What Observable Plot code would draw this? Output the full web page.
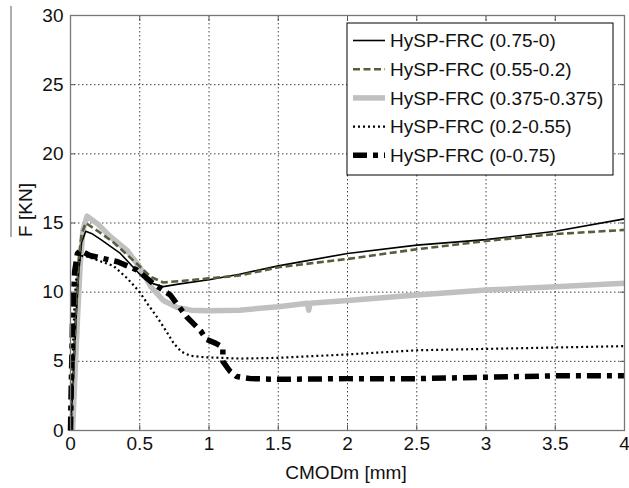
<!DOCTYPE html>
<html>
<head>
<meta charset="utf-8">
<script src="https://cdn.jsdelivr.net/npm/d3@7"></script>
<script src="https://cdn.jsdelivr.net/npm/@observablehq/plot@0.6"></script>
<style>
  html, body { margin: 0; padding: 0; background: #fff; }
  #chart { position: relative; width: 629px; height: 488px; }
  svg { font-family: "Liberation Sans", Arial, sans-serif; }
</style>
</head>
<body>
<div id="chart"></div>
<script>
// ---- data ----
const xTicks = [0, 0.5, 1, 1.5, 2, 2.5, 3, 3.5, 4];
const yTicks = [0, 5, 10, 15, 20, 25, 30];
const seriesNames = ["HySP-FRC (0.75-0)", "HySP-FRC (0.55-0.2)", "HySP-FRC (0.375-0.375)", "HySP-FRC (0.2-0.55)", "HySP-FRC (0-0.75)"];

// HySP-FRC (0.75-0)
const s1x = [0, 0.02, 0.04, 0.06, 0.08, 0.11, 0.16, 0.22, 0.36, 0.5, 0.6, 0.67, 0.79, 1.0, 1.22, 1.5, 2.0, 2.5, 3.0, 3.5, 4.0];
const s1y = [0, 3.5, 8.0, 11.5, 13.6, 14.4, 14.2, 13.8, 12.8, 11.3, 10.6, 10.4, 10.6, 10.9, 11.3, 11.9, 12.8, 13.4, 13.8, 14.4, 15.3];
// HySP-FRC (0.55-0.2)
const s2x = [0, 0.02, 0.04, 0.06, 0.08, 0.11, 0.2, 0.31, 0.48, 0.58, 0.67, 0.79, 1.0, 1.22, 1.5, 2.0, 2.5, 3.0, 3.5, 4.0];
const s2y = [0, 4.0, 9.0, 12.5, 14.2, 15.0, 14.4, 13.6, 12.05, 11.1, 10.7, 10.8, 11.0, 11.2, 11.8, 12.4, 13.1, 13.7, 14.2, 14.5];
// HySP-FRC (0.375-0.375)
const s3x = [0.015, 0.03, 0.05, 0.07, 0.09, 0.12, 0.2, 0.29, 0.41, 0.5, 0.58, 0.67, 0.77, 0.87, 1.0, 1.22, 1.5, 1.71, 1.72, 1.73, 2.0, 2.5, 3.0, 3.5, 4.0];
const s3y = [0, 3.5, 8.0, 12.0, 14.5, 15.5, 14.9, 14.0, 13.0, 11.8, 10.4, 9.4, 8.9, 8.7, 8.65, 8.7, 8.95, 9.2, 8.7, 9.2, 9.4, 9.8, 10.15, 10.4, 10.65];
// HySP-FRC (0.2-0.55)
const s4x = [0, 0.015, 0.03, 0.05, 0.08, 0.11, 0.17, 0.31, 0.41, 0.5, 0.56, 0.625, 0.69, 0.745, 0.8, 0.865, 0.96, 1.22, 1.5, 2.0, 2.5, 3.0, 3.5, 4.0];
const s4y = [0, 5.0, 9.5, 12.0, 12.6, 12.6, 12.4, 11.9, 11.0, 10.0, 9.1, 8.2, 7.2, 6.3, 5.7, 5.4, 5.3, 5.2, 5.25, 5.5, 5.8, 5.9, 6.0, 6.1];
// HySP-FRC (0-0.75)
const s5x = [0, 0.005, 0.015, 0.03, 0.05, 0.072, 0.14, 0.34, 0.48, 0.6, 0.72, 0.84, 0.94, 0.98, 1.05, 1.1, 1.1, 1.15, 1.2, 1.3, 1.5, 2.0, 2.5, 3.0, 3.5, 4.0];
const s5y = [0, 3.0, 8.0, 11.5, 12.8, 13.0, 12.65, 12.2, 11.6, 10.6, 9.8, 8.2, 7.2, 6.6, 6.3, 6.0, 5.0, 4.3, 3.9, 3.75, 3.7, 3.75, 3.75, 3.85, 3.95, 3.95];

const xs = [s1x, s2x, s3x, s4x, s5x];
const ys = [s1y, s2y, s3y, s4y, s5y];

const styles = [
  {stroke: "#000000", strokeWidth: 1.6, strokeDasharray: null},
  {stroke: "#5c5c3c", strokeWidth: 2.6, strokeDasharray: "7,3.5"},
  {stroke: "#c0c0c0", strokeWidth: 5.5, strokeDasharray: null},
  {stroke: "#000000", strokeWidth: 2.2, strokeDasharray: "2,3"},
  {stroke: "#000000", strokeWidth: 5.5, strokeDasharray: "14,6,5,6"}
];

const tables = xs.map((xa, i) => xa.map((x, j) => ({x, y: ys[i][j], s: seriesNames[i]})));

const W = 629, H = 488;
const mL = 70, mR = 5, mT = 15, mB = 58;
const FS = 19;

const lineMarks = [2, 0, 1, 3, 4].map(i =>
  Plot.line(tables[i], {x: "x", y: "y", stroke: styles[i].stroke, strokeWidth: styles[i].strokeWidth,
    strokeDasharray: styles[i].strokeDasharray, strokeLinejoin: "round", strokeLinecap: "butt", curve: "linear"})
);

const plot = Plot.plot({
  width: W, height: H,
  marginLeft: mL, marginRight: mR, marginTop: mT, marginBottom: mB,
  style: {fontFamily: "Liberation Sans, Arial, sans-serif", background: "#fff", overflow: "visible"},
  x: {domain: [0, 4]},
  y: {domain: [0, 30]},
  marks: [
    Plot.gridX(xTicks, {stroke: "#000", strokeOpacity: 0.75, strokeDasharray: "1.5,2.5", strokeWidth: 1}),
    Plot.gridY(yTicks, {stroke: "#000", strokeOpacity: 0.75, strokeDasharray: "1.5,2.5", strokeWidth: 1}),
    ...lineMarks,
    Plot.axisX(xTicks, {anchor: "bottom", tickSize: 0, tickPadding: 6, fontSize: FS, fill: "#111", label: null, tickFormat: d => String(d)}),
    Plot.axisY(yTicks, {anchor: "left", tickSize: 0, tickPadding: 7, fontSize: FS, fill: "#111", label: null, tickFormat: d => String(d)}),
    Plot.axisX(xTicks, {anchor: "bottom", tickSize: -5, fill: "none", stroke: "#555", label: null}),
    Plot.axisX(xTicks, {anchor: "top", tickSize: -5, fill: "none", stroke: "#555", label: null}),
    Plot.axisY(yTicks, {anchor: "left", tickSize: -5, fill: "none", stroke: "#555", label: null}),
    Plot.axisY(yTicks, {anchor: "right", tickSize: -5, fill: "none", stroke: "#555", label: null}),
    Plot.frame({stroke: "#777", strokeWidth: 1.3})
  ]
});

document.getElementById("chart").appendChild(plot);

const svg = d3.select(plot);
// axis labels
svg.append("text")
  .attr("x", 346).attr("y", 479)
  .attr("text-anchor", "middle")
  .attr("font-size", FS).attr("fill", "#111")
  .text("CMODm [mm]");
svg.append("text")
  .attr("transform", "translate(32,210) rotate(-90)")
  .attr("text-anchor", "middle")
  .attr("font-size", FS).attr("fill", "#111")
  .text("F [KN]");
svg.append("line")
  .attr("x1", 11).attr("x2", 11).attr("y1", 6).attr("y2", 237)
  .attr("stroke", "#777").attr("stroke-width", 1.2);

// legend
const lg = svg.append("g");
const lx0 = 347, ly0 = 23, lw = 266, lh = 152;
lg.append("rect").attr("x", lx0).attr("y", ly0).attr("width", lw).attr("height", lh)
  .attr("fill", "#fff").attr("stroke", "#000").attr("stroke-width", 1);
seriesNames.forEach((name, i) => {
  const cy = 40.5 + i * 28.7;
  lg.append("line").attr("x1", 353).attr("x2", 385).attr("y1", cy).attr("y2", cy)
    .attr("stroke", styles[i].stroke).attr("stroke-width", styles[i].strokeWidth)
    .attr("stroke-dasharray", styles[i].strokeDasharray);
  lg.append("text").attr("x", 390).attr("y", cy).attr("dy", "0.35em")
    .attr("text-anchor", "start")
    .attr("font-size", FS).attr("fill", "#111").text(name);
});
</script>
</body>
</html>
